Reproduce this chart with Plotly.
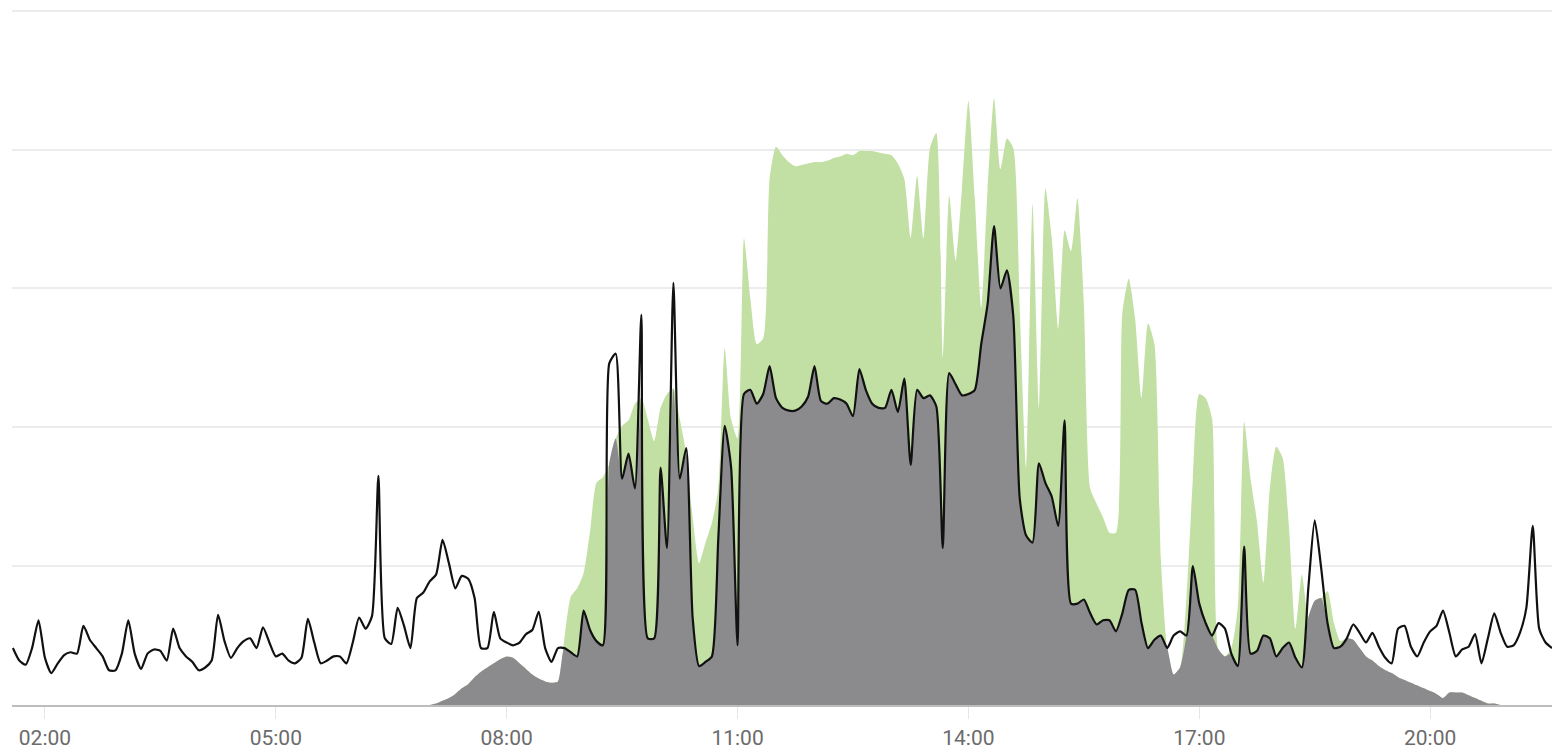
import pandas as pd
import plotly.graph_objects as go

# 5-minute samples from 01:35 to 21:35
start_time = "2021-06-01 01:35"
n_points = 241

# household consumption (kW)
consumption = [
    0.41, 0.32, 0.29, 0.41, 0.61, 0.34, 0.23, 0.30, 0.36, 0.38,
    0.37, 0.57, 0.47, 0.41, 0.35, 0.25, 0.25, 0.37, 0.61, 0.37,
    0.26, 0.37, 0.40, 0.39, 0.32, 0.55, 0.41, 0.35, 0.31, 0.25,
    0.27, 0.32, 0.65, 0.46, 0.34, 0.41, 0.46, 0.48, 0.41, 0.56,
    0.45, 0.35, 0.37, 0.32, 0.30, 0.34, 0.62, 0.45, 0.30, 0.32,
    0.35, 0.35, 0.30, 0.45, 0.63, 0.55, 0.64, 1.65, 0.48, 0.44,
    0.70, 0.57, 0.41, 0.77, 0.81, 0.89, 0.94, 1.19, 1.02, 0.84,
    0.93, 0.91, 0.77, 0.41, 0.41, 0.67, 0.48, 0.45, 0.43, 0.45,
    0.51, 0.54, 0.67, 0.41, 0.31, 0.41, 0.41, 0.38, 0.35, 0.68,
    0.54, 0.46, 0.43, 2.46, 2.53, 1.63, 1.81, 1.56, 2.81, 0.48,
    0.48, 1.71, 1.13, 3.04, 1.63, 1.85, 0.63, 0.28, 0.31, 0.35,
    1.20, 2.01, 1.71, 0.43, 2.24, 2.27, 2.17, 2.24, 2.44, 2.21,
    2.14, 2.12, 2.12, 2.15, 2.22, 2.44, 2.19, 2.17, 2.21, 2.20,
    2.17, 2.08, 2.42, 2.27, 2.17, 2.14, 2.14, 2.27, 2.11, 2.35,
    1.73, 2.27, 2.21, 2.23, 2.15, 1.13, 2.39, 2.31, 2.23, 2.24,
    2.27, 2.60, 2.89, 3.45, 3.00, 3.13, 2.80, 1.49, 1.22, 1.17,
    1.74, 1.60, 1.50, 1.29, 2.05, 0.73, 0.73, 0.76, 0.66, 0.58,
    0.61, 0.61, 0.53, 0.66, 0.83, 0.83, 0.59, 0.41, 0.47, 0.50,
    0.41, 0.50, 0.53, 0.50, 1.00, 0.73, 0.59, 0.50, 0.59, 0.55,
    0.37, 0.28, 1.14, 0.37, 0.39, 0.50, 0.48, 0.35, 0.41, 0.45,
    0.34, 0.27, 0.84, 1.33, 0.99, 0.59, 0.41, 0.42, 0.48, 0.58,
    0.52, 0.45, 0.52, 0.42, 0.34, 0.30, 0.55, 0.57, 0.42, 0.35,
    0.45, 0.53, 0.57, 0.68, 0.52, 0.35, 0.40, 0.42, 0.51, 0.30,
    0.48, 0.66, 0.52, 0.42, 0.43, 0.52, 0.70, 1.29, 0.55, 0.45,
    0.41,
]

# solar production (kW)
production = [
    0, 0, 0, 0, 0, 0, 0, 0, 0, 0,
    0, 0, 0, 0, 0, 0, 0, 0, 0, 0,
    0, 0, 0, 0, 0, 0, 0, 0, 0, 0,
    0, 0, 0, 0, 0, 0, 0, 0, 0, 0,
    0, 0, 0, 0, 0, 0, 0, 0, 0, 0,
    0, 0, 0, 0, 0, 0, 0, 0, 0, 0,
    0, 0, 0, 0, 0, 0, 0.01, 0.03, 0.05, 0.08,
    0.12, 0.15, 0.20, 0.24, 0.27, 0.30, 0.33, 0.35, 0.34, 0.30,
    0.26, 0.22, 0.19, 0.17, 0.16, 0.17, 0.48, 0.78, 0.84, 0.95,
    1.25, 1.60, 1.64, 1.74, 1.92, 2.01, 2.05, 2.17, 2.21, 2.06,
    1.90, 2.14, 2.24, 2.28, 2.06, 1.81, 1.35, 1.02, 1.17, 1.31,
    1.56, 2.57, 2.06, 1.92, 3.36, 2.93, 2.60, 2.64, 3.79, 4.02,
    3.96, 3.91, 3.88, 3.89, 3.90, 3.91, 3.91, 3.92, 3.94, 3.95,
    3.97, 3.96, 3.99, 3.99, 3.99, 3.98, 3.97, 3.96, 3.90, 3.79,
    3.36, 3.81, 3.36, 4.01, 4.12, 2.50, 3.67, 3.20, 3.72, 4.35,
    3.65, 2.86, 3.72, 4.37, 3.86, 4.08, 4.01, 2.86, 1.71, 3.61,
    2.14, 3.72, 3.36, 2.71, 3.42, 3.27, 3.65, 2.89, 1.56, 1.45,
    1.35, 1.24, 1.24, 2.82, 3.07, 2.78, 2.21, 2.75, 2.60, 1.06,
    0.41, 0.22, 0.27, 0.77, 1.63, 2.24, 2.21, 2.06, 0.40, 0.35,
    0.41, 0.70, 2.04, 1.63, 1.32, 0.88, 1.56, 1.86, 1.78, 1.27,
    0.55, 0.94, 0.63, 0.75, 0.77, 0.82, 0.59, 0.46, 0.48, 0.47,
    0.41, 0.35, 0.32, 0.28, 0.25, 0.23, 0.20, 0.18, 0.16, 0.14,
    0.12, 0.10, 0.08, 0.05, 0.09, 0.09, 0.09, 0.07, 0.05, 0.03,
    0.01, 0.01, 0, 0, 0, 0, 0, 0, 0, 0,
    0,
]

times = pd.date_range(start_time, periods=n_points, freq="5min")
# self-consumed solar = part of production used directly by the house
self_consumption = [min(p, c) for p, c in zip(production, consumption)]

GREEN = "#c2e0a3"
GREY = "#8b8b8d"

fig = go.Figure()
fig.add_trace(go.Scatter(
    x=times, y=production, mode="lines", fill="tozeroy",
    line=dict(color=GREEN, width=0, shape="spline", smoothing=0.6),
    fillcolor=GREEN, hoverinfo="skip",
))
fig.add_trace(go.Scatter(
    x=times, y=self_consumption, mode="lines", fill="tozeroy",
    line=dict(color=GREY, width=0, shape="spline", smoothing=0.6),
    fillcolor=GREY, hoverinfo="skip",
))
fig.add_trace(go.Scatter(
    x=times, y=consumption, mode="lines",
    line=dict(color="#111111", width=2.2, shape="spline", smoothing=0.6),
    hoverinfo="skip",
))

fig.update_layout(
    width=1552, height=750,
    margin=dict(l=12, r=0, t=8, b=43),
    paper_bgcolor="white", plot_bgcolor="white",
    showlegend=False,
    font=dict(family="Roboto", size=21, color="#6b6b6b"),
)
fig.update_xaxes(
    type="date",
    range=["2021-06-01 01:34:20", "2021-06-01 21:35:00"],
    tick0="2021-06-01 02:00", dtick=3 * 3600 * 1000,
    tickformat="%H:%M",
    showgrid=False,
    showline=True, linecolor="#bdbdbd", linewidth=2,
    ticks="outside", ticklen=12, tickcolor="#e6e6e6", tickwidth=1,
    ticklabelstandoff=1,
    zeroline=False,
)
fig.update_yaxes(
    range=[0, 5.02],
    dtick=1,
    showticklabels=False,
    showgrid=True, gridcolor="#ececec", gridwidth=2,
    zeroline=False,
)

fig.write_html(
    "out.html",
    config={"displayModeBar": False},
    post_script="document.body.style.margin='0';document.body.style.overflow='hidden';",
)
